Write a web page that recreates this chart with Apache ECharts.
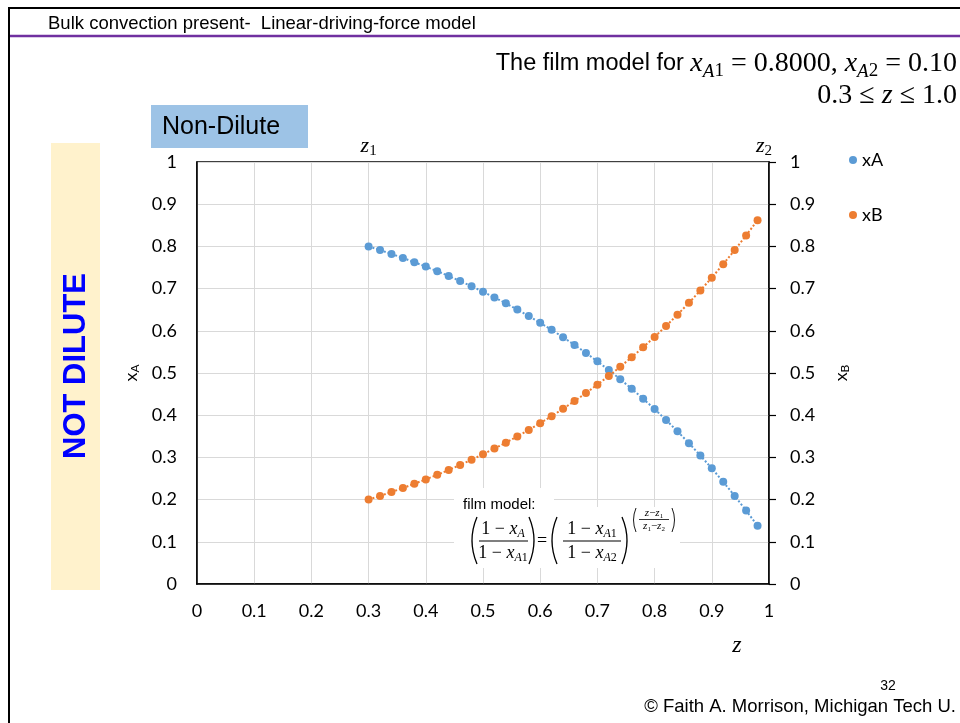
<!DOCTYPE html>
<html><head><meta charset="utf-8">
<script src="https://cdn.jsdelivr.net/npm/echarts@6/dist/echarts.min.js"></script>
<style>html,body{margin:0;padding:0;background:#fff}#c{width:960px;height:723px}</style>
</head><body><div id="c"></div>
<script>
// ---- data ----
const zValues = [0.30,0.32,0.34,0.36,0.38,0.40,0.42,0.44,0.46,0.48,0.50,0.52,0.54,0.56,0.58,0.60,0.62,0.64,0.66,0.68,0.70,0.72,0.74,0.76,0.78,0.80,0.82,0.84,0.86,0.88,0.90,0.92,0.94,0.96,0.98];
const xAValues = [0.8000,0.7912,0.7821,0.7725,0.7625,0.7521,0.7412,0.7298,0.7179,0.7056,0.6926,0.6791,0.6650,0.6503,0.6350,0.6190,0.6022,0.5847,0.5665,0.5475,0.5276,0.5069,0.4852,0.4626,0.4390,0.4144,0.3887,0.3618,0.3338,0.3045,0.2740,0.2421,0.2088,0.1741,0.1378];
const xBValues = [0.2000,0.2088,0.2179,0.2275,0.2375,0.2479,0.2588,0.2702,0.2821,0.2944,0.3074,0.3209,0.3350,0.3497,0.3650,0.3810,0.3978,0.4153,0.4335,0.4525,0.4724,0.4931,0.5148,0.5374,0.5610,0.5856,0.6113,0.6382,0.6662,0.6955,0.7260,0.7579,0.7912,0.8259,0.8622];
const seriesNames = ['xA','xB'];
const xTickLabels = ['0','0.1','0.2','0.3','0.4','0.5','0.6','0.7','0.8','0.9','1'];
const yTickLabels = ['0','0.1','0.2','0.3','0.4','0.5','0.6','0.7','0.8','0.9','1'];
const z1 = 0.3, z2 = 1.0;

const SANS = 'Liberation Sans, Arial, sans-serif';
const TICKF = 'Lato, "Open Sans", sans-serif';
const SERIF = 'Liberation Serif, "DejaVu Serif", serif';
const BLUE = '#5b9bd5', ORANGE = '#ed7d31';

function mathRich(s, ts) {
  const sub = Math.round(s * 0.68);
  return {
    t:  {fontFamily: SANS, fontSize: ts || s, lineHeight: Math.round(s*1.2), color: '#000'},
    mi: {fontFamily: SERIF, fontStyle: 'italic', fontSize: s, lineHeight: Math.round(s*1.2), color: '#000'},
    mn: {fontFamily: SERIF, fontSize: s, lineHeight: Math.round(s*1.2), color: '#000'},
    si: {fontFamily: SERIF, fontStyle: 'italic', fontSize: sub, lineHeight: Math.round(s*0.6), verticalAlign: 'bottom', color: '#000'},
    sn: {fontFamily: SERIF, fontSize: sub, lineHeight: Math.round(s*0.6), verticalAlign: 'bottom', color: '#000'}
  };
}
function tx(x, y, text, rich, align, extra) {
  return Object.assign({
    type: 'text', z: 100,
    style: {x: x, y: y, text: text, rich: rich, align: align || 'center', textAlign: align || 'center',
            verticalAlign: 'middle', textVerticalAlign: 'middle'}
  }, extra || {});
}
function hline(x1, x2, y, w, c) {
  return {type: 'line', z: 100, shape: {x1: x1, y1: y, x2: x2, y2: y}, style: {stroke: c || '#000', lineWidth: w || 1}};
}
function paren(xOuter, xInner, yTop, yBot, w) {
  return {type: 'bezierCurve', z: 100,
    shape: {x1: xInner, y1: yTop, x2: xInner, y2: yBot, cpx1: xOuter, cpy1: (yTop + yBot) / 2},
    style: {stroke: '#000', lineWidth: w || 1.3, fill: null}};
}

const chart = echarts.init(document.getElementById('c'), null, {renderer: 'canvas'});
const yAxisBase = {
  type: 'value', min: 0, max: 1, interval: 0.1,
  nameLocation: 'middle', nameRotate: 90,
  axisLine: {show: true, lineStyle: {color: '#000', width: 1.5}},
  axisLabel: {fontFamily: TICKF, fontSize: 18, color: '#000',
    formatter: function (v) { return yTickLabels[Math.round(v * 10)]; }}
};
const nameRich = {x: {fontFamily: TICKF, fontSize: 18, color: '#000', lineHeight: 20},
                  s: {fontFamily: TICKF, fontSize: 12, color: '#000', lineHeight: 10, verticalAlign: 'bottom'}};
chart.setOption({
  animation: false,
  backgroundColor: '#fff',
  grid: {left: 197, top: 162, width: 572, height: 422, show: true, borderColor: '#000', borderWidth: 1.5,
         outerBoundsMode: 'none', containLabel: false},
  legend: {
    data: seriesNames, orient: 'vertical', left: 849, top: 151, padding: 0,
    icon: 'circle', itemWidth: 8, itemHeight: 8, itemGap: 37,
    textStyle: {fontFamily: TICKF, fontSize: 18, color: '#000'}
  },
  xAxis: {
    type: 'value', min: 0, max: 1, interval: 0.1,
    axisLine: {show: true, lineStyle: {color: '#000', width: 1.5}},
    axisTick: {show: false},
    splitLine: {show: true, lineStyle: {color: '#d9d9d9', width: 1}},
    axisLabel: {fontFamily: TICKF, fontSize: 18, color: '#000', margin: 18,
      formatter: function (v) { return xTickLabels[Math.round(v * 10)]; }}
  },
  yAxis: [
    Object.assign({}, yAxisBase, {
      position: 'left',
      name: '{x|x}{s|A}', nameGap: 55, nameTextStyle: {rich: nameRich},
      axisTick: {show: false},
      splitLine: {show: true, lineStyle: {color: '#d9d9d9', width: 1}},
      axisLabel: Object.assign({}, yAxisBase.axisLabel, {margin: 20})
    }),
    Object.assign({}, yAxisBase, {
      position: 'right',
      name: '{x|x}{s|B}', nameGap: 62, nameTextStyle: {rich: nameRich},
      axisTick: {show: true, inside: false, length: 7, lineStyle: {color: '#000', width: 1.2}},
      splitLine: {show: false},
      axisLabel: Object.assign({}, yAxisBase.axisLabel, {margin: 21})
    })
  ],
  series: [
    {name: seriesNames[0], type: 'line', yAxisIndex: 0,
     data: zValues.map(function (z, i) { return [z, xAValues[i]]; }),
     symbol: 'circle', symbolSize: 8, showSymbol: true,
     itemStyle: {color: BLUE}, lineStyle: {color: BLUE, width: 2, type: 'dotted'}, z: 3},
    {name: seriesNames[1], type: 'line', yAxisIndex: 1,
     data: zValues.map(function (z, i) { return [z, xBValues[i]]; }),
     symbol: 'circle', symbolSize: 8, showSymbol: true,
     itemStyle: {color: ORANGE}, lineStyle: {color: ORANGE, width: 2, type: 'dotted'}, z: 4}
  ]
});

const pz1 = chart.convertToPixel({xAxisIndex: 0}, z1);
const pz2 = chart.convertToPixel({xAxisIndex: 0}, z2);
const rTitle = mathRich(28, 23.5), r28 = mathRich(28), r24 = mathRich(24), r22 = mathRich(22), r18 = mathRich(18), r11 = mathRich(11);

const graphics = [
  // slide frame
  {type: 'line', shape: {x1: 8, y1: 8, x2: 960, y2: 8}, style: {stroke: '#000', lineWidth: 2}},
  {type: 'line', shape: {x1: 9, y1: 7, x2: 9, y2: 723}, style: {stroke: '#000', lineWidth: 2}},
  {type: 'line', shape: {x1: 10, y1: 36, x2: 960, y2: 36}, style: {stroke: '#7030a0', lineWidth: 2.5}},
  tx(48, 24, '{a|Bulk convection present-  Linear-driving-force model}', {a: {fontFamily: SANS, fontSize: 18.5, color: '#000'}}, 'left'),
  // title
  tx(957, 64, '{t|The film model for }{mi|x}{si|A}{sn|1}{mn| = 0.8000, }{mi|x}{si|A}{sn|2}{mn| = 0.10}', rTitle, 'right'),
  tx(957, 96, '{mn|0.3 ≤ }{mi|z}{mn| ≤ 1.0}', r28, 'right'),
  // Non-Dilute box
  {type: 'rect', shape: {x: 151, y: 105, width: 157, height: 43}, style: {fill: '#9dc3e6'}},
  tx(162, 127, '{a|Non-Dilute}', {a: {fontFamily: SANS, fontSize: 25, color: '#0000ff'}}, 'left'),
  // NOT DILUTE box
  {type: 'rect', shape: {x: 51, y: 143, width: 49, height: 447}, style: {fill: '#fff2cc'}},
  {type: 'text', x: 76, y: 366, rotation: Math.PI / 2, z: 100,
   style: {x: 0, y: 0, text: 'NOT DILUTE', font: 'bold 31px ' + SANS, fill: '#0000ff',
           align: 'center', textAlign: 'center', verticalAlign: 'middle', textVerticalAlign: 'middle'}},
  // z1, z2, z
  tx(pz1, 146, '{mi|z}{sn|1}', r22, 'center'),
  tx(pz2 - 5, 146, '{mi|z}{sn|2}', r22, 'center'),
  tx(737, 646, '{mi|z}', r24, 'center'),
  // footer
  tx(888, 686, '{a|32}', {a: {fontFamily: SANS, fontSize: 14, color: '#000'}}, 'center'),
  tx(956, 707, '{a|© Faith A. Morrison, Michigan Tech U.}', {a: {fontFamily: SANS, fontSize: 18.5, color: '#000'}}, 'right'),
  // formula boxes
  {type: 'rect', z: 90, shape: {x: 454, y: 488, width: 100, height: 24}, style: {fill: '#fff'}},
  {type: 'rect', z: 90, shape: {x: 454, y: 507, width: 226, height: 61}, style: {fill: '#fff'}},
  tx(463, 505, '{a|film model:}', {a: {fontFamily: SANS, fontSize: 15, color: '#000'}}, 'left'),
  // left fraction
  paren(467, 477, 517, 564, 1.3),
  tx(503, 529, '{mn|1 − }{mi|x}{si|A}', r18, 'center'),
  hline(479, 528, 541, 1.2),
  tx(503, 553, '{mn|1 − }{mi|x}{si|A}{sn|1}', r18, 'center'),
  paren(539, 529, 517, 564, 1.3),
  tx(542, 541, '{mn|=}', r18, 'center'),
  // right fraction
  paren(547, 557, 517, 564, 1.3),
  tx(592, 529, '{mn|1 − }{mi|x}{si|A}{sn|1}', r18, 'center'),
  hline(563, 621, 541, 1.2),
  tx(592, 553, '{mn|1 − }{mi|x}{si|A}{sn|2}', r18, 'center'),
  paren(632, 622, 517, 564, 1.3),
  // exponent
  paren(631, 636, 508, 532, 0.9),
  tx(654, 513, '{mi|z}{mn|−}{mi|z}{sn|1}', r11, 'center'),
  hline(639, 669, 519.5, 0.8),
  tx(654, 526, '{mi|z}{sn|1}{mn|−}{mi|z}{sn|2}', r11, 'center'),
  paren(677, 672, 508, 532, 0.9)
];
chart.setOption({graphic: graphics});
</script>
</body></html>
